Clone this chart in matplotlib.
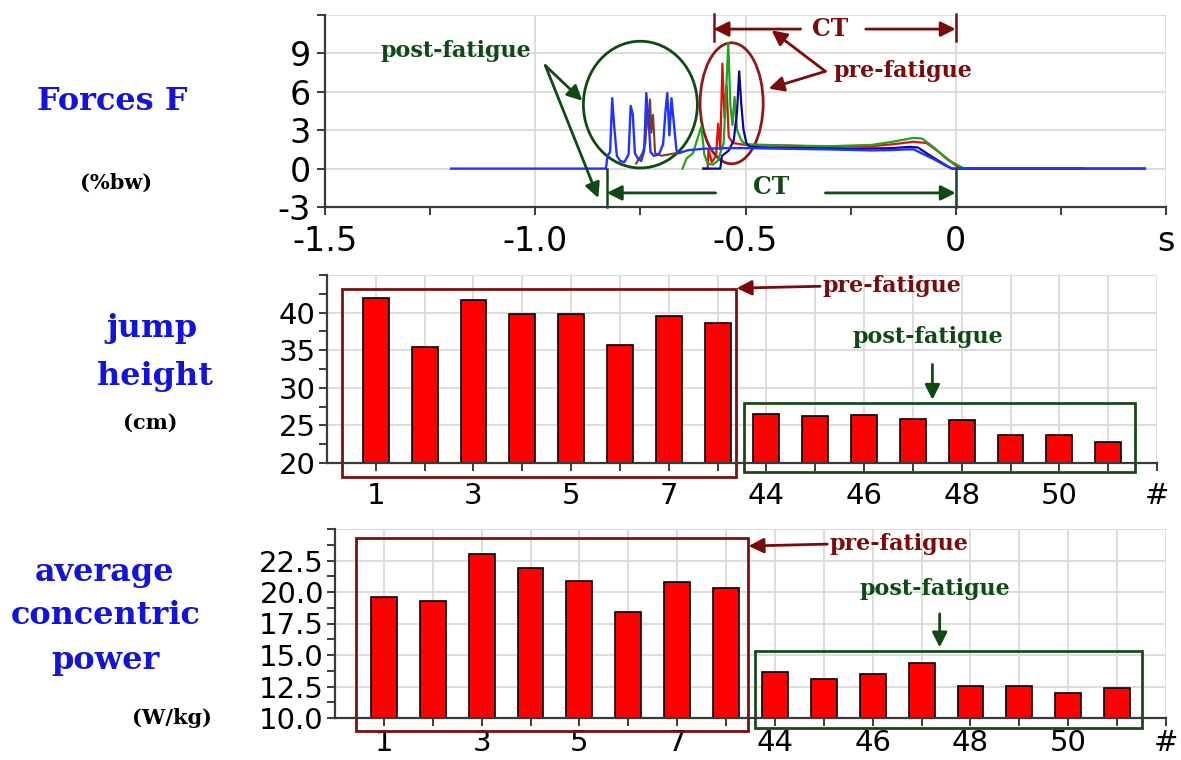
import matplotlib
matplotlib.use("Agg")
import matplotlib.pyplot as plt
from matplotlib.patches import Rectangle, Ellipse

W, H = 1181, 760

# force traces: time (s) and force (%bw)
t_blue = [-1.20, -0.832, -0.828, -0.822, -0.817, -0.812, -0.806, -0.798, -0.788, -0.778,
          -0.773, -0.768, -0.763, -0.756, -0.748, -0.741, -0.736, -0.731, -0.726, -0.718,
          -0.706, -0.696, -0.690, -0.686, -0.681, -0.676, -0.670, -0.664, -0.658, -0.650,
          -0.635, -0.615, -0.600, -0.550, -0.500, -0.400, -0.300, -0.200, -0.150, -0.120,
          -0.100, -0.075, -0.050, -0.025, -0.008, 0.450]
f_blue = [0.0, 0.0, 1.0, 1.3, 5.5, 3.2, 1.0, 0.6, 0.5, 1.1,
          4.9, 4.2, 1.2, 0.8, 0.6, 1.4, 5.9, 4.1, 1.3, 1.0,
          1.1, 1.9, 4.6, 5.9, 2.6, 5.5, 3.4, 1.4, 1.2, 1.3,
          1.45, 1.5, 1.55, 1.6, 1.6, 1.55, 1.5, 1.42, 1.45, 1.5,
          1.5, 1.1, 0.7, 0.25, 0.0, 0.0]
t_brown = [-0.760, -0.745, -0.738, -0.734, -0.730, -0.727, -0.724, -0.720, -0.715, -0.700, -0.650]
f_brown = [0.4, 1.2, 2.0, 4.6, 3.0, 5.4, 2.8, 4.2, 1.2, 1.0, 1.3]
t_navy = [-0.600, -0.560, -0.556, -0.540, -0.528, -0.520, -0.515, -0.510, -0.505, -0.498,
          -0.490, -0.450, -0.350, -0.250, -0.150, -0.110, -0.090, -0.060, -0.030, -0.010, 0.300]
f_navy = [0.0, 0.0, 1.0, 1.4, 2.2, 4.5, 7.6, 5.0, 3.1, 2.0,
          1.7, 1.65, 1.6, 1.55, 1.6, 1.7, 1.65, 1.0, 0.4, 0.0, 0.0]
t_green = [-0.650, -0.640, -0.625, -0.605, -0.598, -0.590, -0.578, -0.566, -0.552, -0.546,
           -0.541, -0.536, -0.531, -0.526, -0.520, -0.510, -0.500, -0.400, -0.300, -0.200,
           -0.150, -0.100, -0.080, -0.050, -0.020, 0.020, 0.450]
f_green = [0.0, 0.8, 1.2, 3.3, 1.1, 0.4, 0.3, 0.6, 2.0, 6.0,
           9.8, 5.0, 3.4, 5.6, 3.0, 2.2, 1.9, 1.8, 1.75, 1.85,
           2.1, 2.4, 2.35, 1.6, 0.7, 0.0, 0.0]
t_red = [-0.600, -0.590, -0.588, -0.580, -0.570, -0.565, -0.560, -0.555, -0.550, -0.545,
         -0.540, -0.530, -0.500, -0.400, -0.300, -0.200, -0.150, -0.100, -0.070, -0.040,
         -0.010, 0.010, 0.450]
f_red = [0.0, 0.0, 1.5, 0.5, 1.0, 3.5, 1.5, 8.2, 4.0, 6.5,
         2.5, 2.0, 1.85, 1.8, 1.7, 1.75, 1.9, 2.1, 2.0, 1.3,
         0.5, 0.0, 0.0]

# bar charts
trials = [1, 2, 3, 4, 5, 6, 7, 8, 44, 45, 46, 47, 48, 49, 50, 51]
jump_height = [42.0, 35.4, 41.7, 39.8, 39.8, 35.7, 39.5, 38.6,
               26.5, 26.2, 26.4, 25.9, 25.7, 23.7, 23.7, 22.8]
avg_power = [19.6, 19.3, 23.05, 21.9, 20.9, 18.4, 20.8, 20.35,
             13.65, 13.1, 13.5, 14.4, 12.55, 12.55, 12.0, 12.4]

BLUE = "#1414d8"
DRED = "#7a0b0b"
DGREEN = "#0f4a14"
AXC = "#3a3a3a"
GRID = "#dadada"
SERIF = "DejaVu Serif"

plt.rcParams["font.family"] = "DejaVu Sans"

fig = plt.figure(figsize=(W / 100, H / 100), dpi=100)


def px_axes(left, top, right, bottom):
    return fig.add_axes([left / W, 1 - bottom / H, (right - left) / W, (bottom - top) / H])


def style(ax, size):
    for s in ("top", "right"):
        ax.spines[s].set_visible(False)
    for s in ("left", "bottom"):
        ax.spines[s].set_color(AXC)
        ax.spines[s].set_linewidth(1.6)
    ax.tick_params(which="both", direction="out", length=6, width=1.4,
                   color=AXC, labelsize=size, pad=2)
    ax.grid(True, which="major", color=GRID, lw=1.3)
    ax.set_axisbelow(True)


def arrow(ax, xy, xytext, color):
    ax.annotate("", xy=xy, xytext=xytext, annotation_clip=False,
                arrowprops=dict(arrowstyle="-|>,head_length=0.9,head_width=0.45",
                                color=color, lw=2, shrinkA=0, shrinkB=0))


def label(ax, x, y, s, color, size=16, ha="center"):
    ax.text(x, y, s, color=color, fontsize=size, family=SERIF, weight="bold",
            ha=ha, va="center", clip_on=False)


# ---- forces panel
ax = px_axes(325, 15, 1166, 207)
style(ax, 24)
ax.tick_params(axis="x", pad=7)
ax.tick_params(axis="y", pad=4)
ax.plot(t_red, f_red, color="#e01010", lw=1.6)
ax.plot(t_green, f_green, color="#1fa31f", lw=1.6)
ax.plot(t_navy, f_navy, color="#0a0a90", lw=1.6)
ax.plot(t_brown, f_brown, color="#7a3b2a", lw=1.5)
ax.plot(t_blue, f_blue, color="#2233ff", lw=1.7)
ax.set_xlim(-1.5, 0.5)
ax.set_ylim(-3, 12)
ax.set_xticks([-1.5, -1.0, -0.5, 0, 0.5])
ax.set_xticklabels(["-1.5", "-1.0", "-0.5", "0", "s"])
ax.set_xticks([-1.25, -0.75, -0.25, 0.25], minor=True)
ax.set_yticks([-3, 0, 3, 6, 9, 12])
ax.set_yticklabels(["-3", "0", "3", "6", "9", ""])

ax.add_patch(Ellipse((-0.75, 5.0), 0.271, 9.9, fill=False, ec=DGREEN, lw=2, clip_on=False))
ax.add_patch(Ellipse((-0.533, 5.1), 0.15, 9.45, fill=False, ec="#8b1a1a", lw=2, clip_on=False))

label(ax, -1.188, 9.2, "post-fatigue", DGREEN)
arrow(ax, (-0.888, 5.3), (-0.976, 8.05), DGREEN)
arrow(ax, (-0.85, -2.3), (-0.976, 8.05), DGREEN)

label(ax, -0.126, 7.66, "pre-fatigue", DRED)
arrow(ax, (-0.438, 10.8), (-0.31, 7.6), DRED)
arrow(ax, (-0.445, 6.25), (-0.31, 7.6), DRED)

# CT brackets
for t0 in (-0.576, 0.0):
    ax.plot([t0, t0], [10.0, 12.1], color=DRED, lw=1.8, clip_on=False)
label(ax, -0.298, 10.9, "CT", DRED, 17)
arrow(ax, (-0.576, 10.9), (-0.369, 10.9), DRED)
arrow(ax, (0.0, 10.9), (-0.214, 10.9), DRED)

for t0 in (-0.83, 0.0):
    ax.plot([t0, t0], [0.0, -3.0], color=DGREEN, lw=1.8, clip_on=False)
label(ax, -0.438, -1.4, "CT", DGREEN, 17)
arrow(ax, (-0.83, -1.9), (-0.571, -1.9), DGREEN)
arrow(ax, (0.0, -1.9), (-0.31, -1.9), DGREEN)


# ---- bar panels
def bar_panel(box, vals, ylim, yticks, ylabels, minor, pre_box, post_box,
              pre_txt, post_txt, xpad):
    ax = px_axes(*box)
    style(ax, 21)
    pos = list(range(len(trials)))
    ax.bar(pos, vals, width=0.53, color="#ff0000", edgecolor="black", lw=1.2)
    ax.set_xlim(-1, len(trials))
    ax.set_ylim(*ylim)
    ticks = pos + [len(trials)]
    labels = [str(t) if i % 2 == 0 else "" for i, t in enumerate(trials)] + ["#"]
    ax.set_xticks(ticks)
    ax.set_xticklabels(labels)
    ax.set_yticks(yticks)
    ax.set_yticklabels(ylabels)
    ax.set_yticks(minor, minor=True)
    ax.tick_params(axis="x", pad=xpad)
    (x0, y0, x1, y1) = pre_box
    ax.add_patch(Rectangle((x0, y0), x1 - x0, y1 - y0, fill=False, ec="#7a1010",
                           lw=2, clip_on=False))
    (x0, y0, x1, y1) = post_box
    ax.add_patch(Rectangle((x0, y0), x1 - x0, y1 - y0, fill=False, ec="#1a4a1a",
                           lw=2, clip_on=False))
    tx, ty, hx = pre_txt
    label(ax, tx, ty, "pre-fatigue", DRED, ha="left")
    arrow(ax, (hx, ty - 0.01 * (ylim[1] - ylim[0])), (tx - 0.05, ty), DRED)
    px, py, a0, a1 = post_txt
    label(ax, px, py, "post-fatigue", DGREEN)
    arrow(ax, (px + 0.1, a1), (px + 0.1, a0), DGREEN)
    return ax


bar_panel((327, 275, 1157, 463), jump_height, (20, 45),
          [20, 25, 30, 35, 40, 45], ["20", "25", "30", "35", "40", ""],
          [22.5, 27.5, 32.5, 37.5, 42.5],
          (-0.70, 18.1, 7.37, 43.2), (7.54, 18.8, 15.54, 28.0),
          (9.15, 43.5, 7.39), (11.3, 36.7, 33.1, 28.4), 8)

bar_panel((335, 529, 1166, 718), avg_power, (10, 25),
          [10, 12.5, 15, 17.5, 20, 22.5, 25],
          ["10.0", "12.5", "15.0", "17.5", "20.0", "22.5", ""],
          [11.25, 13.75, 16.25, 18.75, 21.25, 23.75],
          (-0.57, 8.98, 7.44, 24.25), (7.60, 9.2, 15.51, 15.3),
          (9.12, 23.8, 7.46), (11.27, 20.2, 18.27, 15.6), 2)

# ---- left-hand titles
def side(x, y, s, color, size):
    fig.text(x / W, 1 - y / H, s, color=color, fontsize=size, family=SERIF,
             weight="bold", ha="center", va="center")


side(112, 102, "Forces F", BLUE, 23)
side(116, 183, "(%bw)", "black", 15)
side(152, 328, "jump", BLUE, 23)
side(155, 376, "height", BLUE, 23)
side(150, 423, "(cm)", "black", 15)
side(105, 573, "average", BLUE, 23)
side(106, 615, "concentric", BLUE, 23)
side(105, 660, "power", BLUE, 23)
side(172, 718, "(W/kg)", "black", 15)

fig.savefig("out.png", dpi=100)
